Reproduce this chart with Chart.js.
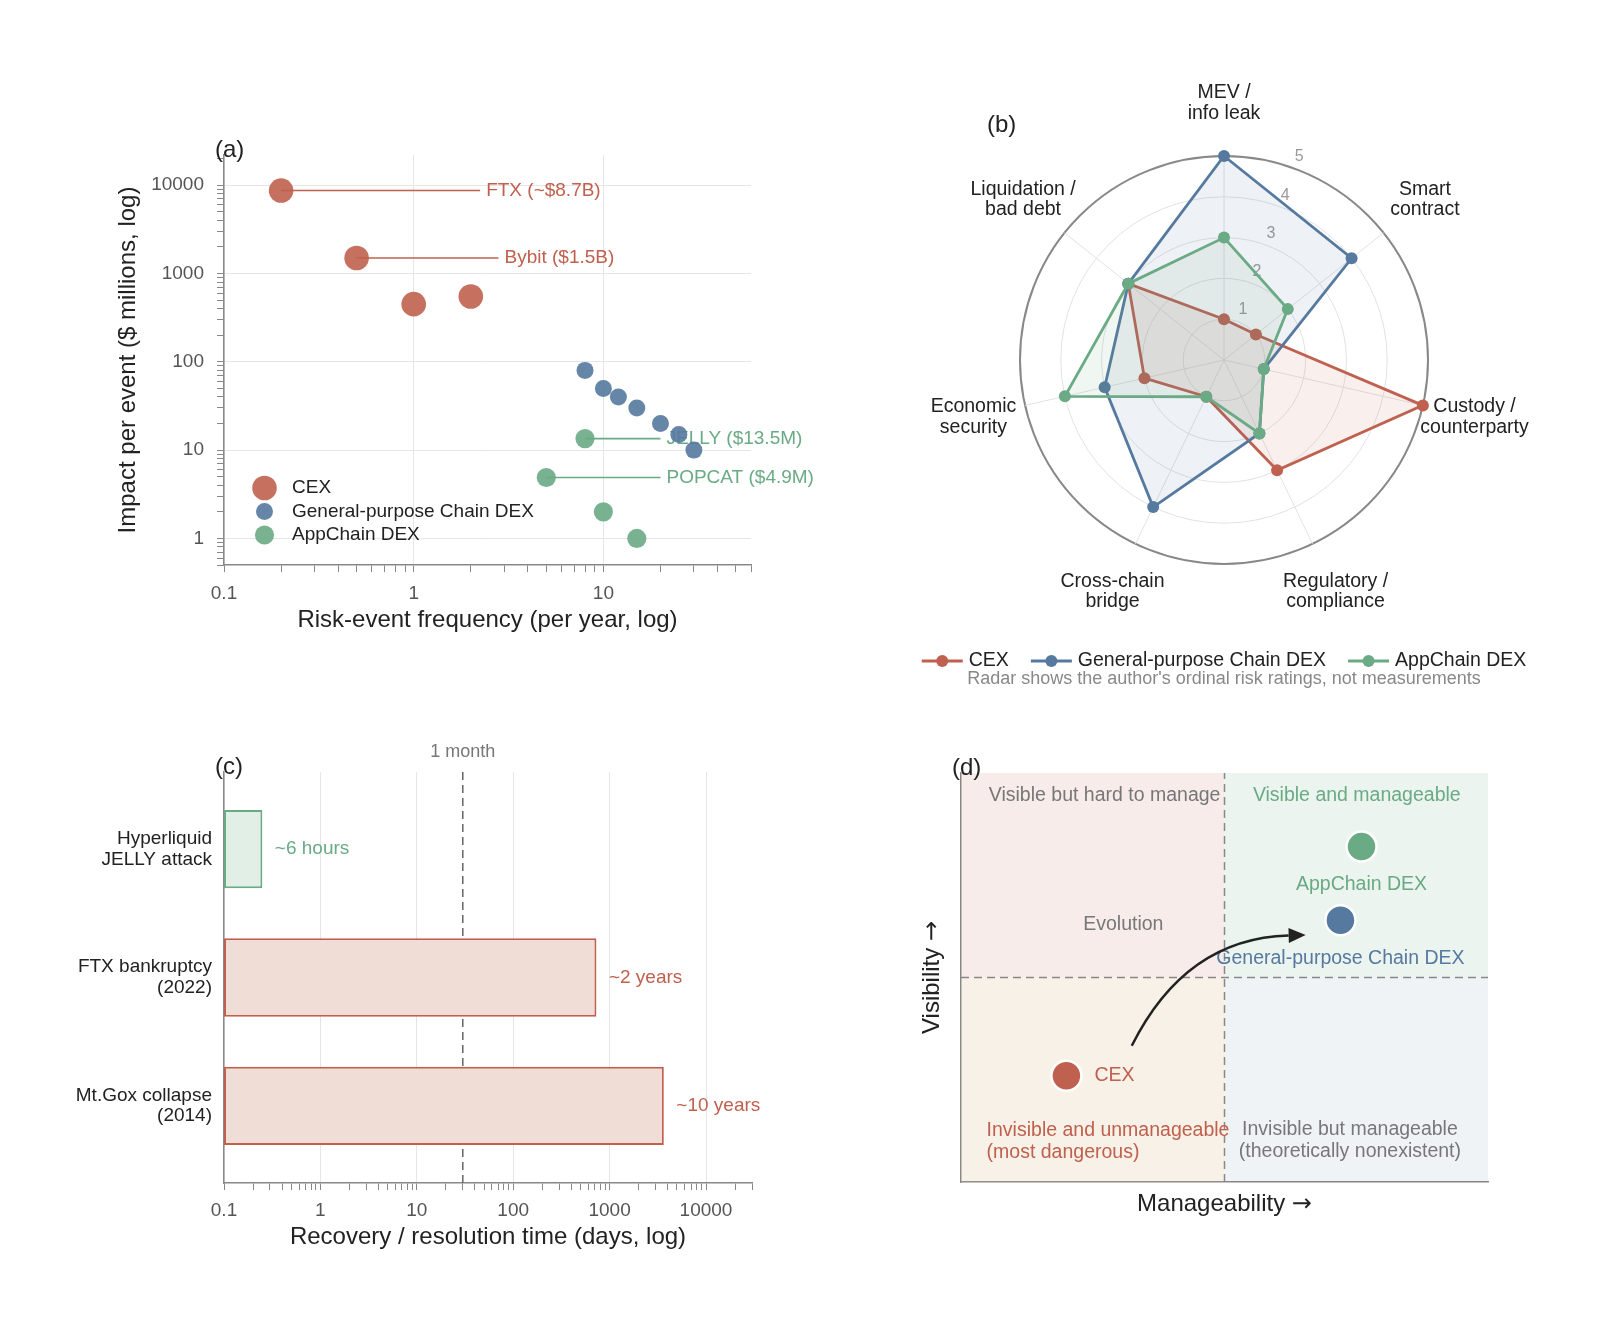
<!DOCTYPE html>
<html>
<head>
<meta charset="utf-8">
<script src="https://cdn.jsdelivr.net/npm/chart.js@4.4.1/dist/chart.umd.min.js"></script>
<style>
  body { margin: 0; background: #fff; }
  #page { position: relative; width: 1600px; height: 1344px; background: #fff; }
  #page canvas { position: absolute; }
</style>
</head>
<body>
<div id="page">
  <canvas id="chartA" width="850" height="700" style="left:0;top:0"></canvas>
  <canvas id="chartB" width="750" height="700" style="left:850px;top:0"></canvas>
  <canvas id="chartC" width="800" height="644" style="left:0;top:700px"></canvas>
  <canvas id="chartD" width="750" height="644" style="left:850px;top:700px"></canvas>
</div>
<script>
// (a) risk-event frequency vs impact
const groupNames = ['CEX', 'General-purpose Chain DEX', 'AppChain DEX'];
const cexFreq = [0.2, 0.5, 1, 2];
const cexImpact = [8700, 1500, 450, 550];
const gpFreq = [8, 10, 12, 15, 20, 25, 30];
const gpImpact = [80, 50, 40, 30, 20, 15, 10];
const appFreq = [8, 5, 10, 15];
const appImpact = [13.5, 4.9, 2, 1];
const freqTicks = [0.1, 1, 10];
const impactTicks = [1, 10, 100, 1000, 10000];
const calloutText = ['FTX (~$8.7B)', 'Bybit ($1.5B)', 'JELLY ($13.5M)', 'POPCAT ($4.9M)'];
const calloutGroup = [0, 0, 2, 2];
const calloutFreq = [0.2, 0.5, 8, 5];
const calloutImpact = [8700, 1500, 13.5, 4.9];
const calloutEnd = [2.24, 2.8, 20, 20];

// (b) ordinal risk ratings
const riskAxes = [['MEV /', 'info leak'], ['Smart', 'contract'], ['Custody /', 'counterparty'],
  ['Regulatory /', 'compliance'], ['Cross-chain', 'bridge'], ['Economic', 'security'], ['Liquidation /', 'bad debt']];
const cexRisk = [1, 1, 5, 3, 1, 2, 3];
const gpRisk = [5, 4, 1, 2, 4, 3, 3];
const appRisk = [3, 2, 1, 2, 1, 4, 3];
const riskTicks = [1, 2, 3, 4, 5];
const radarNote = "Radar shows the author's ordinal risk ratings, not measurements";

// (c) recovery time
const events = [['Hyperliquid', 'JELLY attack'], ['FTX bankruptcy', '(2022)'], ['Mt.Gox collapse', '(2014)']];
const recoveryDays = [0.25, 730, 3650];
const recoveryText = ['~6 hours', '~2 years', '~10 years'];
const recoveryGroup = [2, 0, 0];
const dayTicks = [0.1, 1, 10, 100, 1000, 10000];
const monthDays = 30;
const monthLabel = '1 month';

// (d) visibility / manageability
const quadNames = ['CEX', 'General-purpose Chain DEX', 'AppChain DEX'];
const manageability = [0.2, 0.72, 0.76];
const visibility = [0.26, 0.64, 0.82];
const evolutionFrom = [0.324, 0.333];
const evolutionTo = [0.654, 0.604];

const RED = '#C0604E', BLUE = '#55799F', GREEN = '#6AAA84', GREY = '#777';
const palette = [RED, BLUE, GREEN];
const FONT = "'Liberation Sans', Arial, sans-serif";
const f = (size) => size + 'px ' + FONT;

Chart.defaults.font.family = FONT;
Chart.defaults.color = '#222';

function rgba(hex, a) {
  const n = parseInt(hex.slice(1), 16);
  return 'rgba(' + (n >> 16) + ',' + ((n >> 8) & 255) + ',' + (n & 255) + ',' + a + ')';
}

// every 1..9 x 10^k tick between min and max (only the listed ones get labels / grid)
function logTicks(min, max) {
  const out = [];
  for (let e = Math.floor(Math.log10(min)); e <= Math.ceil(Math.log10(max)); e++) {
    for (let d = 1; d < 10; d++) {
      const v = d * Math.pow(10, e);
      if (v >= min * 0.999 && v <= max * 1.001) out.push({ value: v });
    }
  }
  return out;
}
function isMajor(v, list) {
  return list.some((t) => Math.abs(t - v) / t < 1e-6);
}
function logAxis(min, max, labels, pad, extra) {
  return Object.assign({
    type: 'logarithmic', min: min, max: max,
    afterBuildTicks: (s) => { s.ticks = logTicks(s.min, s.max); },
    ticks: { autoSkip: false, maxRotation: 0, padding: pad, color: '#555', font: { size: 19 },
      callback: (v) => isMajor(v, labels) ? String(v) : '' },
    grid: { color: (c) => c.tick && isMajor(c.tick.value, labels) ? '#e6e6e6' : 'rgba(0,0,0,0)',
      tickColor: '#888', tickLength: 7, lineWidth: 1 },
    border: { color: '#888', width: 1.5 }
  }, extra);
}
function panelTag(ctx, text, x, y) {
  ctx.save();
  ctx.font = f(24);
  ctx.fillStyle = '#222';
  ctx.textAlign = 'left';
  ctx.textBaseline = 'middle';
  ctx.fillText(text, x, y);
  ctx.restore();
}
// axis title with the arrow glyph taken from DejaVu Sans
function arrowTitle(ctx, text, x, y, rot) {
  const arrowFont = "24px 'DejaVu Sans', sans-serif";
  ctx.save();
  ctx.translate(x, y);
  ctx.rotate(rot);
  ctx.textBaseline = 'middle';
  ctx.textAlign = 'left';
  ctx.fillStyle = '#222';
  ctx.font = f(24);
  const w1 = ctx.measureText(text + ' ').width;
  ctx.font = arrowFont;
  const w2 = ctx.measureText('→').width;
  let sx = -(w1 + w2) / 2;
  ctx.font = f(24);
  ctx.fillText(text + ' ', sx, 0);
  ctx.font = arrowFont;
  ctx.fillText('→', sx + w1, 0);
  ctx.restore();
}

const common = {
  responsive: false, animation: false, events: [], devicePixelRatio: 1,
  plugins: { legend: { display: false }, tooltip: { enabled: false } }
};

// ---------- (a) ----------
const pointRadiusA = [12.3, 8.5, 9.6];
const groupsA = [[cexFreq, cexImpact], [gpFreq, gpImpact], [appFreq, appImpact]];

const panelA = {
  id: 'panelA',
  beforeDatasetsDraw(chart) {
    const { ctx, scales: { x, y } } = chart;
    ctx.save();
    ctx.font = f(19);
    ctx.textAlign = 'left';
    ctx.textBaseline = 'middle';
    calloutText.forEach((t, i) => {
      ctx.fillStyle = palette[calloutGroup[i]];
      ctx.fillText(t, x.getPixelForValue(calloutEnd[i]) + 6, y.getPixelForValue(calloutImpact[i]));
    });
    ctx.restore();
  },
  afterDraw(chart) {
    const { ctx, chartArea } = chart;
    ctx.save();
    ctx.font = f(19);
    ctx.textBaseline = 'middle';
    groupNames.forEach((name, i) => {
      const yy = chartArea.bottom - 77 + i * 23.5;
      ctx.fillStyle = rgba(palette[i], 0.9);
      ctx.beginPath();
      ctx.arc(chartArea.left + 40.5, yy, pointRadiusA[i], 0, Math.PI * 2);
      ctx.fill();
      ctx.fillStyle = '#222';
      ctx.fillText(name, chartArea.left + 68, yy);
    });
    ctx.restore();
    panelTag(ctx, '(a)', chartArea.left - 9, chartArea.top - 5);
  }
};

new Chart(document.getElementById('chartA'), {
  type: 'scatter',
  data: {
    datasets: calloutText.map((t, i) => ({
      data: [{ x: calloutFreq[i], y: calloutImpact[i] }, { x: calloutEnd[i], y: calloutImpact[i] }],
      showLine: true, pointRadius: 0, borderWidth: 1.6,
      borderColor: palette[calloutGroup[i]], order: 2
    })).concat(groupsA.map((g, i) => ({
      label: groupNames[i],
      data: g[0].map((v, k) => ({ x: v, y: g[1][k] })),
      pointRadius: pointRadiusA[i], borderWidth: 0,
      backgroundColor: rgba(palette[i], 0.9), order: 1
    })))
  },
  options: Object.assign({}, common, {
    layout: { padding: { left: 114, right: 99, top: 155, bottom: 65 } },
    scales: {
      x: logAxis(0.1, 60, freqTicks, 10, {
        afterFit: (s) => { s.height = 70; },
        title: { display: true, text: 'Risk-event frequency (per year, log)', color: '#222', font: { size: 24 }, padding: 0 }
      }),
      y: logAxis(0.5, 22000, impactTicks, 13, {
        afterFit: (s) => { s.width = 110; },
        title: { display: true, text: 'Impact per event ($ millions, log)', color: '#222', font: { size: 24 }, padding: 0 }
      })
    }
  }),
  plugins: [panelA]
});

// ---------- (b) ----------
const panelB = {
  id: 'panelB',
  beforeDatasetsDraw(chart) {
    const { ctx } = chart;
    const r = chart.scales.r;
    const a = 20.2 * Math.PI / 180;
    ctx.save();
    ctx.font = f(16);
    ctx.fillStyle = '#999';
    ctx.textAlign = 'center';
    ctx.textBaseline = 'middle';
    riskTicks.forEach((v) => {
      const d = r.getDistanceFromCenterForValue(v);
      ctx.fillText(String(v), r.xCenter + d * Math.sin(a) + 4.8, r.yCenter - d * Math.cos(a) - 11.7);
    });
    ctx.restore();
  },
  afterDraw(chart) {
    const { ctx } = chart;
    const r = chart.scales.r;
    ctx.save();
    ctx.font = f(19.5);
    ctx.fillStyle = '#222';
    ctx.textAlign = 'center';
    ctx.textBaseline = 'middle';
    chart.data.labels.forEach((lab, i) => {
      const p = r.getPointPosition(i, r.drawingArea + 53);
      lab.forEach((ln, k) => ctx.fillText(ln, p.x, p.y + (k - (lab.length - 1) / 2) * 20.5));
    });

    // legend below the radar
    const ly = 661, lineLen = 41, gap = 6, spacing = 22;
    const widths = groupNames.map((n) => ctx.measureText(n).width);
    const total = widths.reduce((s, w) => s + lineLen + gap + w, 0) + spacing * (groupNames.length - 1);
    let lx = r.xCenter - total / 2;
    ctx.textAlign = 'left';
    groupNames.forEach((n, i) => {
      ctx.strokeStyle = palette[i];
      ctx.fillStyle = palette[i];
      ctx.lineWidth = 2.8;
      ctx.beginPath();
      ctx.moveTo(lx, ly);
      ctx.lineTo(lx + lineLen, ly);
      ctx.stroke();
      ctx.beginPath();
      ctx.arc(lx + lineLen / 2, ly, 6, 0, Math.PI * 2);
      ctx.fill();
      ctx.fillStyle = '#222';
      ctx.fillText(n, lx + lineLen + gap, ly);
      lx += lineLen + gap + widths[i] + spacing;
    });
    ctx.font = f(18);
    ctx.fillStyle = '#888';
    ctx.textAlign = 'center';
    ctx.fillText(radarNote, r.xCenter, 679);
    ctx.restore();
    panelTag(ctx, '(b)', 137, 125);
  }
};

const riskSeries = [cexRisk, gpRisk, appRisk];
new Chart(document.getElementById('chartB'), {
  type: 'radar',
  data: {
    labels: riskAxes,
    datasets: riskSeries.map((vals, i) => ({
      label: groupNames[i], data: vals, fill: true,
      borderColor: palette[i], backgroundColor: rgba(palette[i], 0.1),
      pointBackgroundColor: palette[i], order: 3 - i
    }))
  },
  options: Object.assign({}, common, {
    layout: { padding: { left: 170, right: 172, top: 156, bottom: 136 } },
    elements: { line: { borderWidth: 2.8, tension: 0 }, point: { radius: 6, borderWidth: 0 } },
    scales: {
      r: {
        min: 0, max: 5, startAngle: 0,
        ticks: { display: false, stepSize: 1 },
        pointLabels: { display: false },
        grid: { circular: true, color: (c) => c.tick && c.tick.value === 5 ? '#888' : '#e2e2e2',
          lineWidth: (c) => c.tick && c.tick.value === 5 ? 2 : 1 },
        angleLines: { color: '#e2e2e2', lineWidth: 1 }
      }
    }
  }),
  plugins: [panelB]
});

// ---------- (c) ----------
const panelC = {
  id: 'panelC',
  beforeDatasetsDraw(chart) {
    const { ctx, chartArea, scales: { x } } = chart;
    const px = x.getPixelForValue(monthDays);
    ctx.save();
    ctx.strokeStyle = '#666';
    ctx.lineWidth = 1.5;
    ctx.setLineDash([8, 5]);
    ctx.beginPath();
    ctx.moveTo(px, chartArea.top);
    ctx.lineTo(px, chartArea.bottom);
    ctx.stroke();
    ctx.setLineDash([]);
    ctx.font = f(18);
    ctx.fillStyle = GREY;
    ctx.textAlign = 'center';
    ctx.textBaseline = 'middle';
    ctx.fillText(monthLabel, px, chartArea.top - 20);
    ctx.restore();
  },
  afterDatasetsDraw(chart) {
    const { ctx, chartArea } = chart;
    ctx.save();
    ctx.font = f(19);
    ctx.textAlign = 'left';
    ctx.textBaseline = 'middle';
    chart.getDatasetMeta(0).data.forEach((bar, i) => {
      ctx.fillStyle = palette[recoveryGroup[i]];
      ctx.fillText(recoveryText[i], bar.x + 12.5, bar.y);
    });
    ctx.restore();
    panelTag(ctx, '(c)', chartArea.left - 9, chartArea.top - 5);
  }
};

const barFill = ['#F0DDD6', '#DDE6EF', '#E2EFE7'];
new Chart(document.getElementById('chartC'), {
  type: 'bar',
  data: {
    datasets: [{
      data: recoveryDays.map((d, i) => ({ x: [dayTicks[0], d], y: i })),
      backgroundColor: recoveryGroup.map((g) => barFill[g]),
      borderColor: recoveryGroup.map((g) => palette[g]),
      borderWidth: 2, borderSkipped: false,
      categoryPercentage: 1, barPercentage: 0.61
    }]
  },
  options: Object.assign({}, common, {
    indexAxis: 'y',
    layout: { padding: { left: 0, right: 48, top: 72, bottom: 92 } },
    scales: {
      x: logAxis(0.1, 30000, dayTicks, 9, {
        afterFit: (s) => { s.height = 69; },
        title: { display: true, text: 'Recovery / resolution time (days, log)', color: '#222', font: { size: 24 }, padding: 0 }
      }),
      y: {
        type: 'linear', min: -0.6, max: 2.6, reverse: true, offset: false, grace: 0,
        afterBuildTicks: (s) => { s.ticks = events.map((e, i) => ({ value: i })); },
        afterFit: (s) => { s.width = 224; },
        ticks: { autoSkip: false, padding: 12, color: '#222', font: { size: 19, lineHeight: 1.08 },
          callback: (v) => events[v] },
        grid: { display: false, drawTicks: false, offset: false },
        border: { display: true, color: '#888', width: 1.5 }
      }
    }
  }),
  plugins: [panelC]
});

// ---------- (d) ----------
const quadFill = ['rgba(192,96,78,0.12)', 'rgba(106,170,132,0.13)', 'rgba(214,170,110,0.17)', 'rgba(85,121,159,0.09)'];
const quadCaptions = [
  { lines: ['Visible but hard to manage'], x: 0.2725, y: 0.9455, align: 'center', color: GREY },
  { lines: ['Visible and manageable'], x: 0.751, y: 0.9455, align: 'center', color: GREEN },
  { lines: ['Evolution'], x: 0.308, y: 0.63, align: 'center', color: GREY },
  { lines: ['Invisible and unmanageable', '(most dangerous)'], x: 0.0486, y: 0.098, align: 'left', color: RED },
  { lines: ['Invisible but manageable', '(theoretically nonexistent)'], x: 0.738, y: 0.102, align: 'center', color: GREY }
];

const panelD = {
  id: 'panelD',
  beforeDatasetsDraw(chart) {
    const { ctx, scales: { x, y } } = chart;
    const x0 = x.getPixelForValue(0), xm = x.getPixelForValue(0.5), x1 = x.getPixelForValue(1);
    const y0 = y.getPixelForValue(0), ym = y.getPixelForValue(0.5), y1 = y.getPixelForValue(1);
    ctx.save();
    ctx.fillStyle = quadFill[0]; ctx.fillRect(x0, y1, xm - x0, ym - y1);
    ctx.fillStyle = quadFill[1]; ctx.fillRect(xm, y1, x1 - xm, ym - y1);
    ctx.fillStyle = quadFill[2]; ctx.fillRect(x0, ym, xm - x0, y0 - ym);
    ctx.fillStyle = quadFill[3]; ctx.fillRect(xm, ym, x1 - xm, y0 - ym);
    ctx.restore();
  },
  afterDatasetsDraw(chart) {
    const { ctx, chartArea, scales: { x, y } } = chart;
    ctx.save();
    ctx.font = f(19.5);
    ctx.textBaseline = 'middle';
    quadCaptions.forEach((c) => {
      ctx.fillStyle = c.color;
      ctx.textAlign = c.align;
      c.lines.forEach((ln, k) => ctx.fillText(ln, x.getPixelForValue(c.x),
        y.getPixelForValue(c.y) + (k - (c.lines.length - 1) / 2) * 21.7));
    });
    // point labels
    quadNames.forEach((n, i) => {
      const px = x.getPixelForValue(manageability[i]), py = y.getPixelForValue(visibility[i]);
      ctx.fillStyle = palette[i];
      if (i === 0) {
        ctx.textAlign = 'left';
        ctx.fillText(n, px + 28, py);
      } else {
        ctx.textAlign = 'center';
        ctx.fillText(n, px, py + 38);
      }
    });

    // curved evolution arrow
    const sx = x.getPixelForValue(evolutionFrom[0]), sy = y.getPixelForValue(evolutionFrom[1]);
    const ex = x.getPixelForValue(evolutionTo[0]), ey = y.getPixelForValue(evolutionTo[1]);
    const rad = 0.3;
    const cx = (sx + ex) / 2 + rad * (ey - sy), cy = (sy + ey) / 2 - rad * (ex - sx);
    const ang = Math.atan2(ey - cy, ex - cx);
    const headLen = 17, headHalf = 7.5;
    const bx = ex - headLen * Math.cos(ang), by = ey - headLen * Math.sin(ang);
    ctx.strokeStyle = '#222';
    ctx.fillStyle = '#222';
    ctx.lineWidth = 2.5;
    ctx.beginPath();
    ctx.moveTo(sx, sy);
    ctx.quadraticCurveTo(cx, cy, bx, by);
    ctx.stroke();
    ctx.beginPath();
    ctx.moveTo(ex, ey);
    ctx.lineTo(bx + headHalf * Math.sin(ang), by - headHalf * Math.cos(ang));
    ctx.lineTo(bx - headHalf * Math.sin(ang), by + headHalf * Math.cos(ang));
    ctx.closePath();
    ctx.fill();
    ctx.restore();

    arrowTitle(ctx, 'Manageability', (chartArea.left + chartArea.right) / 2, chartArea.bottom + 22.5, 0);
    arrowTitle(ctx, 'Visibility', chartArea.left - 28.5, (chartArea.top + chartArea.bottom) / 2, -Math.PI / 2);
    panelTag(ctx, '(d)', chartArea.left - 9, chartArea.top - 5);
  }
};

const plainAxis = () => ({
  type: 'linear', min: 0, max: 1,
  ticks: { display: false },
  grid: { display: false, drawTicks: false },
  border: { display: true, color: '#888', width: 1.5 }
});

new Chart(document.getElementById('chartD'), {
  type: 'scatter',
  data: {
    datasets: [
      { data: [{ x: 0.5, y: 0 }, { x: 0.5, y: 1 }], showLine: true, pointRadius: 0,
        borderColor: '#888', borderWidth: 1.5, borderDash: [8, 5], order: 2 },
      { data: [{ x: 0, y: 0.5 }, { x: 1, y: 0.5 }], showLine: true, pointRadius: 0,
        borderColor: '#888', borderWidth: 1.5, borderDash: [8, 5], order: 2 },
      { data: manageability.map((m, i) => ({ x: m, y: visibility[i] })),
        pointRadius: 15, backgroundColor: palette, borderColor: '#fff', borderWidth: 2.5, order: 1 }
    ]
  },
  options: Object.assign({}, common, {
    layout: { padding: { left: 69, right: 112, top: 73, bottom: 125 } },
    scales: {
      x: Object.assign(plainAxis(), { afterFit: (s) => { s.height = 37; } }),
      y: Object.assign(plainAxis(), { afterFit: (s) => { s.width = 42; } })
    }
  }),
  plugins: [panelD]
});
</script>
</body>
</html>
